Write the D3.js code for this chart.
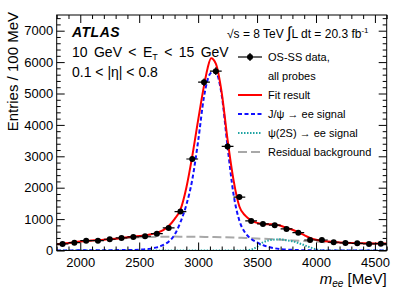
<!DOCTYPE html>
<html><head><meta charset="utf-8">
<script src="https://cdn.jsdelivr.net/npm/d3@7"></script>
<style>
body{margin:0;background:#fff}
svg{display:block}
text{font-family:"Liberation Sans",Arial,Helvetica,sans-serif;fill:#000}
</style>
</head><body>
<svg id="chart" width="407" height="292"></svg>
<script>
// ---- data ----
const binCenters = [1850,1950,2050,2150,2250,2350,2450,2550,2650,2750,2850,2950,3050,3150,3250,3350,3450,3550,3650,3750,3850,3950,4050,4150,4250,4350,4450,4550];
const counts     = [208,250,313,313,358,400,431,454,537,719,1240,2914,5361,5712,3316,1700,942,847,805,687,569,335,335,262,240,230,208,217];
const countErrors= [40,40,45,45,45,50,50,50,55,60,75,95,120,125,100,75,60,55,55,50,50,45,45,40,40,40,40,40];
const binHalfWidth = 50;

const fitX  = [1800,1900,2000,2100,2200,2300,2400,2500,2600,2700,2750,2800,2850,2900,2950,3000,3050,3080,3110,3150,3200,3250,3300,3350,3400,3450,3500,3550,3600,3650,3700,3750,3800,3850,3900,3950,4000,4100,4200,4300,4400,4500,4600];
const fitY  = [200,240,285,320,345,375,420,460,515,640,780,1000,1300,2000,3000,4150,5250,5800,6120,5950,5030,3520,2250,1400,1110,960,880,845,835,830,790,720,660,580,490,400,340,285,258,240,230,224,220];

const jpsiX = [1800,2000,2200,2400,2500,2600,2650,2700,2750,2800,2850,2900,2950,3000,3050,3100,3130,3150,3200,3250,3300,3350,3400,3450,3500,3550,3600,3700,3800,3900,4000,4600];
const jpsiY = [0,5,10,15,25,60,100,170,280,500,900,1450,2250,3480,4900,5620,5700,5680,4950,3300,1800,950,560,370,260,170,110,45,20,8,3,0];

const psi2sX = [1800,3350,3400,3450,3500,3550,3600,3650,3700,3750,3800,3850,3900,3950,4000,4050,4100,4600];
const psi2sY = [0,0,5,30,120,260,320,350,355,330,295,240,170,100,40,8,0,0];

const bkgX  = [1800,1900,2000,2100,2200,2300,2400,2500,2600,2700,2800,2900,3000,3100,3200,3300,3400,3500,3600,3700,3800,3900,4000,4100,4200,4300,4400,4500,4600];
const bkgY  = [198,236,278,312,338,365,395,418,432,440,442,440,436,430,422,412,398,382,365,345,322,300,280,262,248,236,226,218,212];

const xTickValues = [2000,2500,3000,3500,4000,4500];
const yTickValues = [0,1000,2000,3000,4000,5000,6000,7000];
const xDomain = [1800,4600];
const yDomain = [0,7500];

// ---- layout ----
const L = 56.7, R = 386.7, T = 15, B = 250.5;
const svg = d3.select("#chart");
const x = d3.scaleLinear().domain(xDomain).range([L, R]);
const y = d3.scaleLinear().domain(yDomain).range([B, T]);

svg.append("defs").append("clipPath").attr("id","clip")
  .append("rect").attr("x",L).attr("y",T).attr("width",R-L).attr("height",B-T);

const plot = svg.append("g").attr("clip-path","url(#clip)");

const line = d3.line().x(d=>x(d[0])).y(d=>y(d[1])).curve(d3.curveMonotoneX);
const pts = (xs, ys) => xs.map((v,i)=>[v, ys[i]]);

// curves
plot.append("path").datum(pts(bkgX,bkgY)).attr("d",line)
  .attr("fill","none").attr("stroke","#a8a8a8").attr("stroke-width",2).attr("stroke-dasharray","9,4");
plot.append("path").datum(pts(psi2sX,psi2sY)).attr("d",line)
  .attr("fill","none").attr("stroke","#1fa3a3").attr("stroke-width",2).attr("stroke-dasharray","1.5,1.5");
plot.append("path").datum(pts(jpsiX,jpsiY)).attr("d",line)
  .attr("fill","none").attr("stroke","#1010ff").attr("stroke-width",2).attr("stroke-dasharray","4,2.5");
plot.append("path").datum(pts(fitX,fitY)).attr("d",line)
  .attr("fill","none").attr("stroke","#ff0000").attr("stroke-width",2);

// data points
const dg = plot.append("g");
binCenters.forEach((c,i)=>{
  dg.append("line").attr("x1",x(c-binHalfWidth)).attr("x2",x(c+binHalfWidth))
    .attr("y1",y(counts[i])).attr("y2",y(counts[i])).attr("stroke","#000").attr("stroke-width",1.2);
  dg.append("line").attr("x1",x(c)).attr("x2",x(c))
    .attr("y1",y(counts[i]-countErrors[i])).attr("y2",y(counts[i]+countErrors[i])).attr("stroke","#000").attr("stroke-width",1.2);
  dg.append("circle").attr("cx",x(c)).attr("cy",y(counts[i])).attr("r",3).attr("fill","#000");
});

// axes (ticks inside the frame, ROOT style)
const xMinor = d3.range(1800,4601,100).filter(v=>!xTickValues.includes(v));
const yMinor = d3.range(0,7501,200).filter(v=>!yTickValues.includes(v));
function styleAxis(g){ g.select(".domain").remove(); g.selectAll("line").attr("stroke","#000"); g.selectAll("text").style("font-size","13px").attr("fill","#000"); }

svg.append("g").attr("transform",`translate(0,${B})`)
  .call(d3.axisBottom(x).tickValues(xTickValues).tickSize(-8).tickPadding(7).tickFormat(d3.format("d"))).call(styleAxis);
svg.append("g").attr("transform",`translate(0,${B})`)
  .call(d3.axisBottom(x).tickValues(xMinor).tickSize(-4).tickFormat("")).call(styleAxis);
svg.append("g").attr("transform",`translate(0,${T})`)
  .call(d3.axisTop(x).tickValues(xTickValues).tickSize(-8).tickFormat("")).call(styleAxis);
svg.append("g").attr("transform",`translate(0,${T})`)
  .call(d3.axisTop(x).tickValues(xMinor).tickSize(-4).tickFormat("")).call(styleAxis);

svg.append("g").attr("transform",`translate(${L},0)`)
  .call(d3.axisLeft(y).tickValues(yTickValues).tickSize(-8).tickPadding(3.5).tickFormat(d3.format("d"))).call(styleAxis);
svg.append("g").attr("transform",`translate(${L},0)`)
  .call(d3.axisLeft(y).tickValues(yMinor).tickSize(-4).tickFormat("")).call(styleAxis);
svg.append("g").attr("transform",`translate(${R},0)`)
  .call(d3.axisRight(y).tickValues(yTickValues).tickSize(-8).tickFormat("")).call(styleAxis);
svg.append("g").attr("transform",`translate(${R},0)`)
  .call(d3.axisRight(y).tickValues(yMinor).tickSize(-4).tickFormat("")).call(styleAxis);

// frame
svg.append("rect").attr("x",L).attr("y",T).attr("width",R-L).attr("height",B-T)
  .attr("fill","none").attr("stroke","#000").attr("stroke-width",1);

// axis titles
const xt = svg.append("text").attr("x",R).attr("y",284).attr("text-anchor","end").style("font-size","15px");
xt.append("tspan").attr("font-style","italic").text("m");
xt.append("tspan").attr("font-style","italic").attr("dy","3").style("font-size","10px").text("ee");
xt.append("tspan").attr("dy","-3").text(" [MeV]");

svg.append("text").attr("transform","translate(18,12) rotate(-90)").attr("text-anchor","end")
  .style("font-size","15px").text("Entries / 100 MeV");

// labels
svg.append("text").attr("x",72).attr("y",37).style("font-size","14px").style("letter-spacing","0.5px")
  .attr("font-weight","bold").attr("font-style","italic").text("ATLAS");
const et = svg.append("text").attr("x",72).attr("y",57).style("font-size","14px").style("word-spacing","2.5px");
et.append("tspan").text("10 GeV < E");
et.append("tspan").attr("dy","3").style("font-size","9px").text("T");
et.append("tspan").attr("dy","-3").text(" < 15 GeV");
svg.append("text").attr("x",72).attr("y",77).style("font-size","14px").text("0.1 < |η| < 0.8");

const lum = svg.append("text").attr("x",227).attr("y",38).style("font-size","12px");
lum.append("tspan").text("√s = 8 TeV  ");
lum.append("tspan").style("font-size","16px").text("∫");
lum.append("tspan").text("L dt = 20.3 fb");
lum.append("tspan").attr("dy","-5").style("font-size","8px").text("-1");

// legend
const legendLabels = ["OS-SS data,","all probes","Fit result","J/ψ → ee signal","ψ(2S) → ee signal","Residual background"];
const legendRowY = [57,76,95,114,133,152];
const lx1 = 238, lx2 = 262, ltx = 268;
const lg = svg.append("g");
legendLabels.forEach((t,i)=>{
  lg.append("text").attr("x",ltx).attr("y",legendRowY[i]).attr("dy","0.35em").style("font-size","11px").text(t);
});
// data symbol
lg.append("line").attr("x1",lx1).attr("x2",lx2).attr("y1",legendRowY[0]).attr("y2",legendRowY[0]).attr("stroke","#000").attr("stroke-width",1.2);
lg.append("line").attr("x1",(lx1+lx2)/2).attr("x2",(lx1+lx2)/2).attr("y1",legendRowY[0]-4).attr("y2",legendRowY[0]+4).attr("stroke","#000").attr("stroke-width",1.2);
lg.append("circle").attr("cx",(lx1+lx2)/2).attr("cy",legendRowY[0]).attr("r",3).attr("fill","#000");
const legendStyles = [
  {row:2, color:"#ff0000", dash:null},
  {row:3, color:"#1010ff", dash:"4,2.5"},
  {row:4, color:"#1fa3a3", dash:"1.5,1.5"},
  {row:5, color:"#a8a8a8", dash:"9,4"}
];
legendStyles.forEach(s=>{
  lg.append("line").attr("x1",lx1).attr("x2",lx2).attr("y1",legendRowY[s.row]).attr("y2",legendRowY[s.row])
    .attr("stroke",s.color).attr("stroke-width",2).attr("stroke-dasharray",s.dash);
});
</script>
</body></html>
